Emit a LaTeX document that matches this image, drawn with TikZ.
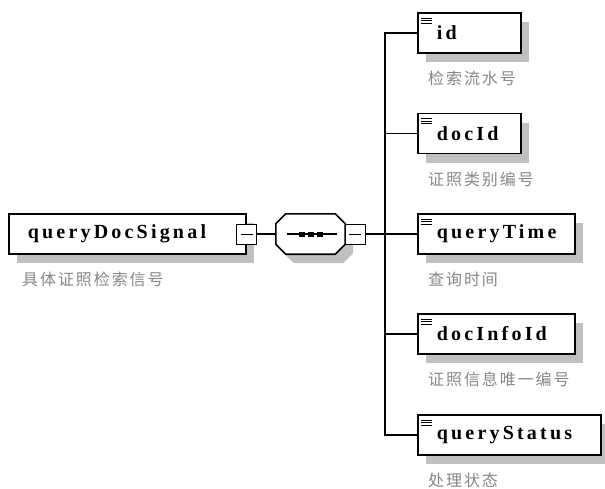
\documentclass[tikz,border=0pt]{standalone}
\usepackage{fontspec}
\usepackage{xcolor}
\usepackage{tikz}
\usetikzlibrary{positioning, shadows}
\newfontfamily\elemfont[LetterSpace=16]{Liberation Serif}
\newfontfamily\cjkfont[LetterSpace=12]{Noto Sans CJK SC}
\definecolor{shadowgray}{RGB}{192, 192, 192}
\definecolor{notegray}{RGB}{135, 135, 135}

\begin{document}
\begin{tikzpicture}[x=1pt, y=-1pt,
        boxshadow/.style={drop shadow={shadow xshift=8pt, shadow yshift=-9pt, fill=shadowgray, opacity=1}},
        elem/.style={draw, line width=1.6pt, fill=white, anchor=west, minimum height=40pt, inner xsep=19pt, inner ysep=0pt, text width=#1, align=left, font=\elemfont\bfseries\fontsize{20}{20}\selectfont, boxshadow},
        leaf/.style={elem=#1, path picture={
            \foreach \d in {5,7.5,10}
                \draw[line width=0.9pt] ([shift={(3pt,-\d pt)}]path picture bounding box.north west) -- ++(11pt,0pt);}},
        minus/.style={draw, fill=white, line width=0.9pt, minimum size=20pt, inner sep=0pt, path picture={
            \draw[line width=0.9pt] ([xshift=4pt]path picture bounding box.west) -- ([xshift=-4pt]path picture bounding box.east);}},
        note/.style={text=notegray, font=\cjkfont\fontsize{16}{16}\selectfont, inner sep=0pt},
        link/.style={line width=1.2pt}]
        \useasboundingbox (0,0) rectangle (605,488);

        % Root element
        \node[elem=199pt] (signal) at (8,234) {queryDocSignal};
        \node[note, below right=17pt and 14pt of signal.south west] (signalnote) {具体证照检索信号};
        \node[minus] (sigminus) at (signal.east) {};

        % Sequence compositor
        \node[minimum width=69pt, minimum height=40pt] (seq) at (310.5,234) {};
        \filldraw[fill=white, line width=1.6pt, boxshadow] ([yshift=-10pt]seq.north west) -- ([xshift=10pt]seq.north west) -- ([xshift=-10pt]seq.north east) -- ([yshift=-10pt]seq.north east) -- ([yshift=10pt]seq.south east) -- ([xshift=-10pt]seq.south east) -- ([xshift=10pt]seq.south west) -- ([yshift=10pt]seq.south west) -- cycle;
        \draw[link] ([xshift=11pt]seq.west) -- ([xshift=-8pt]seq.east);
        \foreach \dx in {-9,0,9}
            \fill ([xshift=\dx pt]seq.center) ++(-3pt,-2.5pt) rectangle ++(6pt,5pt);
        \node[minus] (seqminus) at ([xshift=10pt]seq.east) {};
        \coordinate (fork) at (385,234);

        % Child elements
        \node[leaf=65pt] (id) at (417,33) {id};
        \node[leaf=65pt] (docid) at (417,133.5) {docId};
        \node[leaf=119pt] (querytime) at (417,234) {queryTime};
        \node[leaf=119pt] (docinfoid) at (417,334) {docInfoId};
        \node[leaf=145pt] (querystatus) at (417,435) {queryStatus};

        % Annotations
        \node[note, below right=17pt and 11pt of id.south west] (idnote) {检索流水号};
        \node[note, below right=17pt and 11pt of docid.south west] (docidnote) {证照类别编号};
        \node[note, below right=17pt and 11pt of querytime.south west] (querytimenote) {查询时间};
        \node[note, below right=17pt and 11pt of docinfoid.south west] (docinfoidnote) {证照信息唯一编号};
        \node[note, below right=17pt and 11pt of querystatus.south west] (querystatusnote) {处理状态};

        % Connecting lines
        \draw[link] (sigminus.east) -- (seq.west);
        \draw[link] (seqminus.east) -- (fork);
        \draw[link] (fork) |- (id.west);
        \draw[link] (fork) |- (docid.west);
        \draw[link] (fork) -- (querytime.west);
        \draw[link] (fork) |- (docinfoid.west);
        \draw[link] (fork) |- (querystatus.west);
\end{tikzpicture}
\end{document}
